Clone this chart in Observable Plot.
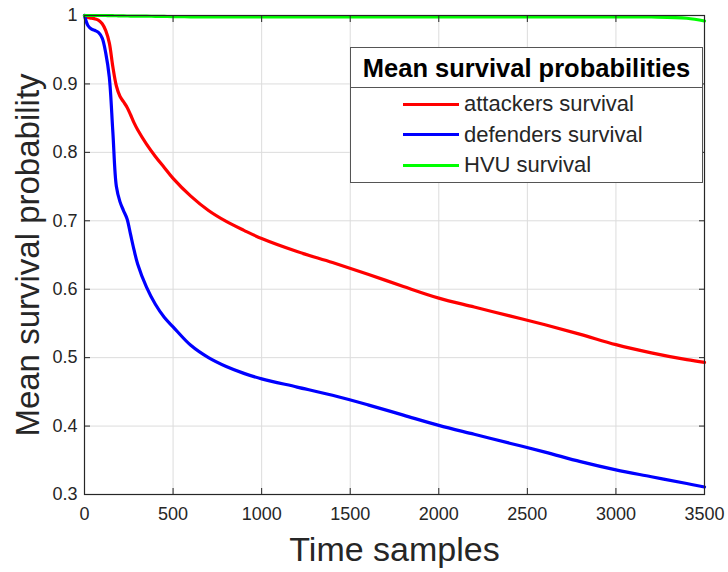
<!DOCTYPE html>
<html><head><meta charset="utf-8">
<script src="https://cdn.jsdelivr.net/npm/d3@7"></script>
<script src="https://cdn.jsdelivr.net/npm/@observablehq/plot@0.6"></script>
<style>
body{margin:0;background:#fff;font-family:"Liberation Sans",Arial,sans-serif;}
#wrap{position:relative;width:728px;height:572px;}
#legend{position:absolute;left:350px;top:47px;width:353px;height:136px;border:1.3px solid #555;background:#fff;box-sizing:border-box;}
#legend .ttl{font-weight:bold;font-size:25.5px;text-align:center;height:39px;line-height:41px;border-bottom:1.3px solid #555;color:#000;white-space:nowrap;}
#legend .row{position:absolute;left:52px;height:28px;display:flex;align-items:center;font-size:22px;color:#262626;white-space:nowrap;}
#legend .sw{width:56px;height:3px;margin-right:5px;}
</style></head>
<body><div id="wrap"><div id="chart"></div><div id="legend"></div></div>
<script>
const t = [0,20,40,60,80,100,120,140,160,180,200,220,240,260,280,300,350,400,450,500,600,700,800,900,1000,1200,1400,1600,1800,2000,2200,2400,2600,2800,3000,3200,3400,3500];
const attackers = [1.0,0.997,0.996,0.995,0.993,0.988,0.978,0.96,0.925,0.897,0.882,0.874,0.866,0.855,0.843,0.833,0.812,0.794,0.778,0.762,0.736,0.715,0.699,0.686,0.674,0.655,0.639,0.622,0.604,0.587,0.574,0.561,0.548,0.534,0.519,0.507,0.497,0.493];
const defenders = [1.0,0.985,0.98,0.978,0.975,0.967,0.945,0.91,0.83,0.75,0.728,0.715,0.703,0.68,0.657,0.637,0.603,0.578,0.559,0.545,0.518,0.5,0.487,0.477,0.469,0.457,0.445,0.431,0.416,0.401,0.388,0.375,0.362,0.348,0.336,0.326,0.316,0.311];
const hvu = [1.0,1.0,1.0,1.0,1.0,1.0,1.0,0.9998,0.9997,0.9996,0.9995,0.9994,0.9993,0.9992,0.9991,0.999,0.999,0.9988,0.9986,0.9984,0.9981,0.998,0.998,0.998,0.998,0.998,0.998,0.998,0.998,0.998,0.998,0.998,0.998,0.998,0.998,0.9978,0.996,0.992];
const seriesNames = ["attackers survival","defenders survival","HVU survival"];
const seriesColors = ["#ff0000","#0000ff","#00ff00"];
const legendTitle = "Mean survival probabilities";
const xTicks = [0,500,1000,1500,2000,2500,3000,3500];
const yTicks = [0.3,0.4,0.5,0.6,0.7,0.8,0.9,1];
const yTickLabels = ["0.3","0.4","0.5","0.6","0.7","0.8","0.9","1"];

const rows = [];
[attackers, defenders, hvu].forEach((vals, k) => {
  t.forEach((x, i) => rows.push({t: x, v: vals[i], s: seriesNames[k]}));
});

const chart = Plot.plot({
  width: 728, height: 572,
  marginLeft: 84, marginRight: 24, marginTop: 15, marginBottom: 78,
  style: {fontFamily: "'Liberation Sans', Arial, sans-serif", background: "#fff", overflow: "visible"},
  x: {domain: [0, 3500]},
  y: {domain: [0.3, 1]},
  color: {domain: seriesNames, range: seriesColors},
  marks: [
    Plot.gridX(xTicks, {stroke: "#dcdcdc", strokeOpacity: 1, strokeWidth: 1}),
    Plot.gridY(yTicks, {stroke: "#dcdcdc", strokeOpacity: 1, strokeWidth: 1}),
    Plot.lineY(rows, {x: "t", y: "v", z: "s", stroke: "s", strokeWidth: 3.2, curve: "catmull-rom"}),
    Plot.frame({stroke: "#262626", strokeWidth: 1.2}),
    Plot.axisX(xTicks, {anchor: "bottom", tickSize: -6, tickPadding: 19, fontSize: 18, color: "#262626", label: null, stroke: "#262626", tickFormat: d3.format("d")}),
    Plot.axisX(xTicks, {anchor: "top", tickSize: -6, text: null, label: null, stroke: "#262626"}),
    Plot.axisY(yTicks, {anchor: "left", tickSize: -6, tickPadding: 13, fontSize: 18, color: "#262626", label: null, stroke: "#262626", tickFormat: (d, i) => yTickLabels[i]}),
    Plot.axisY(yTicks, {anchor: "right", tickSize: -6, text: null, label: null, stroke: "#262626"}),
    Plot.text(["Time samples"], {frameAnchor: "bottom", dy: 66, fontSize: 34, fill: "#262626", text: d => d}),
    Plot.text(["Mean survival probability"], {frameAnchor: "left", textAnchor: "middle", dx: -56, rotate: -90, fontSize: 33, fill: "#262626", text: d => d})
  ]
});
document.getElementById("chart").appendChild(chart);

const lg = document.getElementById("legend");
const ttl = document.createElement("div");
ttl.className = "ttl"; ttl.textContent = legendTitle; lg.appendChild(ttl);
seriesNames.forEach((n, i) => {
  const r = document.createElement("div");
  r.className = "row"; r.style.top = (42 + i * 30.5) + "px";
  const sw = document.createElement("div");
  sw.className = "sw"; sw.style.background = seriesColors[i];
  const tx = document.createElement("span"); tx.textContent = n;
  r.appendChild(sw); r.appendChild(tx); lg.appendChild(r);
});
</script></body></html>
